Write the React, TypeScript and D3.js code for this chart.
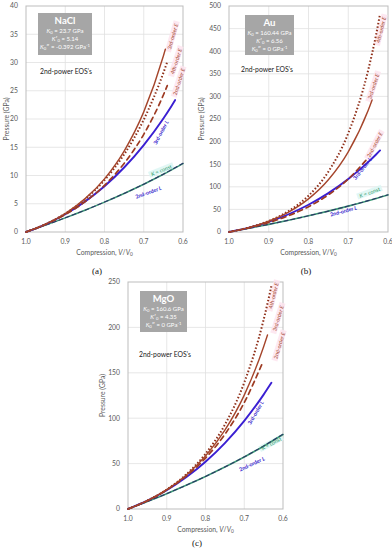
import React from 'react';
import * as d3 from 'd3';

// Compression grids (V/V0) for each curve
const V_TO_060 = [1, 0.95, 0.9, 0.85, 0.8, 0.75, 0.7, 0.65, 0.6];
const V_TO_065 = [1, 0.95, 0.9, 0.85, 0.8, 0.75, 0.7, 0.65];
const V_TO_0645 = [1, 0.95, 0.9, 0.85, 0.8, 0.75, 0.7, 0.65, 0.645];
const V_TO_064 = [1, 0.95, 0.9, 0.85, 0.8, 0.75, 0.7, 0.65, 0.64];
const V_TO_063 = [1, 0.95, 0.9, 0.85, 0.8, 0.75, 0.7, 0.65, 0.63];
const V_TO_062 = [1, 0.95, 0.9, 0.85, 0.8, 0.75, 0.7, 0.65, 0.63, 0.62];
const V_TO_0655 = [1, 0.95, 0.9, 0.85, 0.8, 0.75, 0.7, 0.655];

// NaCl pressures (GPa)
const NACL_KCONST = [0, 1.22, 2.5, 3.85, 5.29, 6.82, 8.45, 10.21, 12.11];
const NACL_L2 = [0, 1.22, 2.5, 3.85, 5.29, 6.83, 8.47, 10.24, 12.17];
const NACL_L3 = [0, 1.37, 3.15, 5.38, 8.11, 11.42, 15.39, 20.1, 22.23, 23.35];
const NACL_E2 = [0, 1.35, 3.08, 5.33, 8.27, 12.14, 17.29, 24.25, 25.92];
const NACL_E3 = [0, 1.39, 3.28, 5.86, 9.41, 14.33, 21.26, 31.14, 32.34];
const NACL_E4 = [0, 1.39, 3.26, 5.78, 9.17, 13.73, 19.88, 28.17, 30.14];

// Au pressures (GPa)
const AU_KCONST = [0, 8.23, 16.9, 26.08, 35.8, 46.16, 57.23, 69.12, 81.96];
const AU_L2 = [0, 8.23, 16.91, 26.09, 35.84, 46.23, 57.36, 69.35, 82.35];
const AU_L3 = [0, 9.59, 22.55, 39.27, 60.21, 85.92, 117.08, 154.53, 171.49, 180.42];
const AU_E2 = [0, 9.12, 20.88, 36.11, 55.99, 82.18, 117.06, 164.14];
const AU_E3 = [0, 9.73, 23.79, 44.04, 73.24, 115.54, 177.39, 268.98, 292.19];
const AU_E4 = [0, 9.78, 24.33, 46.34, 80.26, 133.45, 218.51, 357.53, 436.31, 482.33];

// MgO pressures (GPa)
const MGO_KCONST = [0, 8.24, 16.92, 26.1, 35.84, 46.2, 57.28, 69.18, 82.04];
const MGO_L2 = [0, 8.24, 16.92, 26.12, 35.87, 46.27, 57.42, 69.42, 82.44];
const MGO_L3 = [0, 9.14, 20.67, 34.86, 52.05, 72.62, 97.06, 125.96, 138.93];
const MGO_E2 = [0, 9.13, 20.9, 36.14, 56.05, 82.26, 117.17, 158.91];
const MGO_E3 = [0, 9.21, 21.3, 37.23, 58.41, 86.83, 125.43, 178.65, 191.61];
const MGO_E4 = [0, 9.23, 21.48, 38.0, 60.77, 92.84, 139.23, 208.38, 245.4];

const X_TICKS = [1.0, 0.9, 0.8, 0.7, 0.6];

type Kind = 'kc' | 'l2' | 'l3' | 'e2' | 'e3' | 'e4';
type Curve = { kind: Kind; v: number[]; p: number[] };
type Label = { text: string; v: number; p: number; rot: number; kind: Kind };

const STYLE: Record<Kind, { stroke: string; width: number; dash?: string }> = {
  kc: { stroke: '#3e9b77', width: 1.6 },
  l2: { stroke: '#2b3566', width: 1.1, dash: '4 3' },
  l3: { stroke: '#3a1fd2', width: 1.9 },
  e2: { stroke: '#9d3a22', width: 1.7, dash: '5 4' },
  e3: { stroke: '#a5452b', width: 1.4 },
  e4: { stroke: '#8f2f19', width: 2, dash: '1.5 2' },
};

const LABEL_COLOR: Record<Kind, string> = {
  kc: '#2f9a6a',
  l2: '#3522cc',
  l3: '#3522cc',
  e2: '#a4462c',
  e3: '#a4462c',
  e4: '#a4462c',
};

type PanelCfg = {
  x0: number; x1: number; y0: number; y1: number;
  yMax: number; yStep: number; yTitleX: number;
  name: string; k0: string; k1: string; k2: string;
  box: [number, number, number, number];
  note: [number, number];
  curves: Curve[];
  labels: Label[];
  sub: string; subX: number; subY: number;
};

const FONT = 'Lato, "Open Sans", sans-serif';

const PANELS: PanelCfg[] = [
  {
    x0: 26, x1: 183, y0: 6, y1: 232, yMax: 40, yStep: 5, yTitleX: 9,
    name: 'NaCl', k0: '23.7', k1: '5.14', k2: '-0.392',
    box: [38, 13, 54, 42], note: [40, 74],
    curves: [
      { kind: 'kc', v: V_TO_060, p: NACL_KCONST },
      { kind: 'l2', v: V_TO_060, p: NACL_L2 },
      { kind: 'l3', v: V_TO_062, p: NACL_L3 },
      { kind: 'e2', v: V_TO_064, p: NACL_E2 },
      { kind: 'e4', v: V_TO_064, p: NACL_E4 },
      { kind: 'e3', v: V_TO_0645, p: NACL_E3 },
    ],
    labels: [
      { text: '3rd-order E', v: 0.626, p: 34.6, rot: -74, kind: 'e3' },
      { text: '4th-order E', v: 0.617, p: 30.2, rot: -72, kind: 'e4' },
      { text: '2nd-order E', v: 0.61, p: 26.6, rot: -72, kind: 'e2' },
      { text: '3rd-order L', v: 0.656, p: 17.6, rot: -62, kind: 'l3' },
      { text: 'K = const', v: 0.655, p: 10.9, rot: -22, kind: 'kc' },
      { text: '2nd-order L', v: 0.688, p: 7.0, rot: -20, kind: 'l2' },
    ],
    sub: '(a)', subX: 97, subY: 274,
  },
  {
    x0: 229, x1: 388, y0: 6, y1: 232, yMax: 500, yStep: 50, yTitleX: 204,
    name: 'Au', k0: '160.44', k1: '6.56', k2: '0',
    box: [245, 15, 49, 40], note: [241, 72],
    curves: [
      { kind: 'kc', v: V_TO_060, p: AU_KCONST },
      { kind: 'l2', v: V_TO_060, p: AU_L2 },
      { kind: 'l3', v: V_TO_062, p: AU_L3 },
      { kind: 'e2', v: V_TO_065, p: AU_E2 },
      { kind: 'e4', v: V_TO_062, p: AU_E4 },
      { kind: 'e3', v: V_TO_064, p: AU_E3 },
    ],
    labels: [
      { text: '4th-order E', v: 0.617, p: 447, rot: -76, kind: 'e4' },
      { text: '3rd-order E', v: 0.636, p: 322, rot: -72, kind: 'e3' },
      { text: '2nd-order E', v: 0.633, p: 193, rot: -62, kind: 'e2' },
      { text: '3rd-order L', v: 0.664, p: 140, rot: -52, kind: 'l3' },
      { text: 'K = const', v: 0.646, p: 87, rot: -20, kind: 'kc' },
      { text: '2nd-order L', v: 0.712, p: 46, rot: -15, kind: 'l2' },
    ],
    sub: '(b)', subX: 306, subY: 274,
  },
  {
    x0: 128, x1: 283, y0: 282, y1: 509, yMax: 250, yStep: 50, yTitleX: 105,
    name: 'MgO', k0: '160.6', k1: '4.35', k2: '0',
    box: [140, 291, 47, 41], note: [139, 357],
    curves: [
      { kind: 'kc', v: V_TO_060, p: MGO_KCONST },
      { kind: 'l2', v: V_TO_060, p: MGO_L2 },
      { kind: 'l3', v: V_TO_063, p: MGO_L3 },
      { kind: 'e2', v: V_TO_0655, p: MGO_E2 },
      { kind: 'e4', v: V_TO_063, p: MGO_E4 },
      { kind: 'e3', v: V_TO_064, p: MGO_E3 },
    ],
    labels: [
      { text: '4th-order E', v: 0.624, p: 235, rot: -76, kind: 'e4' },
      { text: '3rd-order E', v: 0.612, p: 210, rot: -73, kind: 'e3' },
      { text: '2nd-order E', v: 0.609, p: 180, rot: -73, kind: 'e2' },
      { text: '3rd-order L', v: 0.67, p: 106, rot: -60, kind: 'l3' },
      { text: 'K = const', v: 0.63, p: 72, rot: -28, kind: 'kc' },
      { text: '2nd-order L', v: 0.68, p: 49.5, rot: -25, kind: 'l2' },
    ],
    sub: '(c)', subX: 197, subY: 546,
  },
];

function Panel({ cfg }: { cfg: PanelCfg }) {
  const x = d3.scaleLinear().domain([1.0, 0.6]).range([cfg.x0, cfg.x1]);
  const y = d3.scaleLinear().domain([0, cfg.yMax]).range([cfg.y1, cfg.y0]);
  const yTicks = d3.range(0, cfg.yMax + 1e-9, cfg.yStep);
  const line = d3
    .line<[number, number]>()
    .x((d) => x(d[0]))
    .y((d) => y(d[1]))
    .curve(d3.curveMonotoneX);
  const cx = (cfg.x0 + cfg.x1) / 2;
  const cy = (cfg.y0 + cfg.y1) / 2;
  const [bx, by, bw, bh] = cfg.box;
  const bcx = bx + bw / 2;
  return (
    <g>
      {/* grid */}
      {X_TICKS.slice(1, -1).map((t) => (
        <line key={'gx' + t} x1={x(t)} x2={x(t)} y1={cfg.y0} y2={cfg.y1} stroke="#e1e1e1" strokeWidth={0.8} />
      ))}
      {yTicks.slice(1, -1).map((t) => (
        <line key={'gy' + t} x1={cfg.x0} x2={cfg.x1} y1={y(t)} y2={y(t)} stroke="#e1e1e1" strokeWidth={0.8} />
      ))}
      <rect x={cfg.x0} y={cfg.y0} width={cfg.x1 - cfg.x0} height={cfg.y1 - cfg.y0} fill="none" stroke="#bdbdbd" strokeWidth={1} />
      {/* tick labels */}
      {yTicks.map((t) => (
        <text key={'ty' + t} x={cfg.x0 - 8} y={y(t) + 2.4} fontSize={6.8} fill="#595959" textAnchor="end" fontFamily={FONT}>
          {t}
        </text>
      ))}
      {X_TICKS.map((t) => (
        <text key={'tx' + t} x={x(t)} y={cfg.y1 + 12.3} fontSize={6.8} fill="#595959" textAnchor="middle" fontFamily={FONT}>
          {t.toFixed(1)}
        </text>
      ))}
      <text
        transform={`translate(${cfg.yTitleX},${cy}) rotate(-90)`}
        fontSize={6.8}
        fill="#595959"
        textAnchor="middle"
        fontFamily={FONT}
      >
        Pressure (GPa)
      </text>
      <text x={cx} y={cfg.y1 + 22.5} fontSize={6.8} fill="#595959" textAnchor="middle" fontFamily={FONT}>
        Compression, <tspan fontStyle="italic">V</tspan>/<tspan fontStyle="italic">V</tspan>
        <tspan fontSize={4.8} dy={1.5}>0</tspan>
      </text>
      {/* label backgrounds */}
      {cfg.labels.map((l, i) => (
        <rect
          key={'lb' + i}
          x={-l.text.length * 1.45}
          y={-3.6}
          width={l.text.length * 2.9}
          height={6.2}
          fill={l.kind === 'kc' ? '#dcf6f3' : l.kind.startsWith('e') ? '#fde4ee' : 'none'}
          opacity={0.85}
          transform={`translate(${x(l.v)},${y(l.p)}) rotate(${l.rot})`}
        />
      ))}
      {/* curves */}
      {cfg.curves.map((c, i) => {
        const s = STYLE[c.kind];
        const pts = c.v.map((v, j) => [v, c.p[j]] as [number, number]);
        return (
          <path
            key={'c' + i}
            d={line(pts) || ''}
            fill="none"
            stroke={s.stroke}
            strokeWidth={s.width}
            strokeDasharray={s.dash}
            strokeLinecap={c.kind === 'e4' ? 'butt' : 'round'}
          />
        );
      })}
      {/* curve labels */}
      {cfg.labels.map((l, i) => (
        <text
          key={'lt' + i}
          transform={`translate(${x(l.v)},${y(l.p)}) rotate(${l.rot})`}
          fontSize={5.3}
          fontWeight={l.kind.startsWith('l') ? 700 : 400}
          fill={LABEL_COLOR[l.kind]}
          textAnchor="middle"
          dy={1.8}
          fontFamily={FONT}
        >
          {l.text.endsWith(' E') || l.text.endsWith(' L') ? (
            <>
              {l.text.slice(0, -1)}
              <tspan fontStyle="italic">{l.text.slice(-1)}</tspan>
            </>
          ) : (
            <>
              <tspan fontStyle="italic">K</tspan>
              {l.text.slice(1)}
            </>
          )}
        </text>
      ))}
      {/* info box */}
      <rect x={bx} y={by} width={bw} height={bh} fill="#a6a6a6" />
      <text x={bcx} y={by + 10.8} fontSize={9.6} fontWeight={700} fill="#ffffff" textAnchor="middle" fontFamily={FONT}>
        {cfg.name}
      </text>
      <text x={bcx} y={by + 19.8} fontSize={6} fill="#ffffff" textAnchor="middle" fontFamily={FONT}>
        <tspan fontStyle="italic">K</tspan>
        <tspan fontSize={4.2} dy={1.2}>0</tspan>
        <tspan dy={-1.2}>{` = ${cfg.k0} GPa`}</tspan>
      </text>
      <text x={bcx} y={by + 27.8} fontSize={6} fill="#ffffff" textAnchor="middle" fontFamily={FONT}>
        <tspan fontStyle="italic">K</tspan>
        <tspan>′</tspan>
        <tspan fontSize={4.2} dy={1.2}>0</tspan>
        <tspan dy={-1.2}>{` = ${cfg.k1}`}</tspan>
      </text>
      <text x={bcx} y={by + 35.8} fontSize={6} fill="#ffffff" textAnchor="middle" fontFamily={FONT}>
        <tspan fontStyle="italic">K</tspan>
        <tspan fontSize={4.2} dy={1.2}>0</tspan>
        <tspan dy={-1.2}>″</tspan>
        <tspan>{` = ${cfg.k2} GPa`}</tspan>
        <tspan fontSize={4.2} dy={-2}>-1</tspan>
      </text>
      <text x={cfg.note[0]} y={cfg.note[1]} fontSize={6.8} fill="#1a1a1a" fontFamily={FONT}>
        2nd-power EOS’s
      </text>
      <text x={cfg.subX} y={cfg.subY} fontSize={9} fill="#111" textAnchor="middle" fontFamily='"Liberation Serif", "DejaVu Serif", serif'>
        {cfg.sub}
      </text>
    </g>
  );
}

export default function App() {
  return (
    <svg
      width={392}
      height={550}
      viewBox="0 0 392 550"
      style={{ position: 'absolute', left: 0, top: 0, background: '#ffffff' }}
    >
      <rect x={0} y={0} width={392} height={550} fill="#ffffff" />
      {PANELS.map((p) => (
        <Panel key={p.name} cfg={p} />
      ))}
    </svg>
  );
}
